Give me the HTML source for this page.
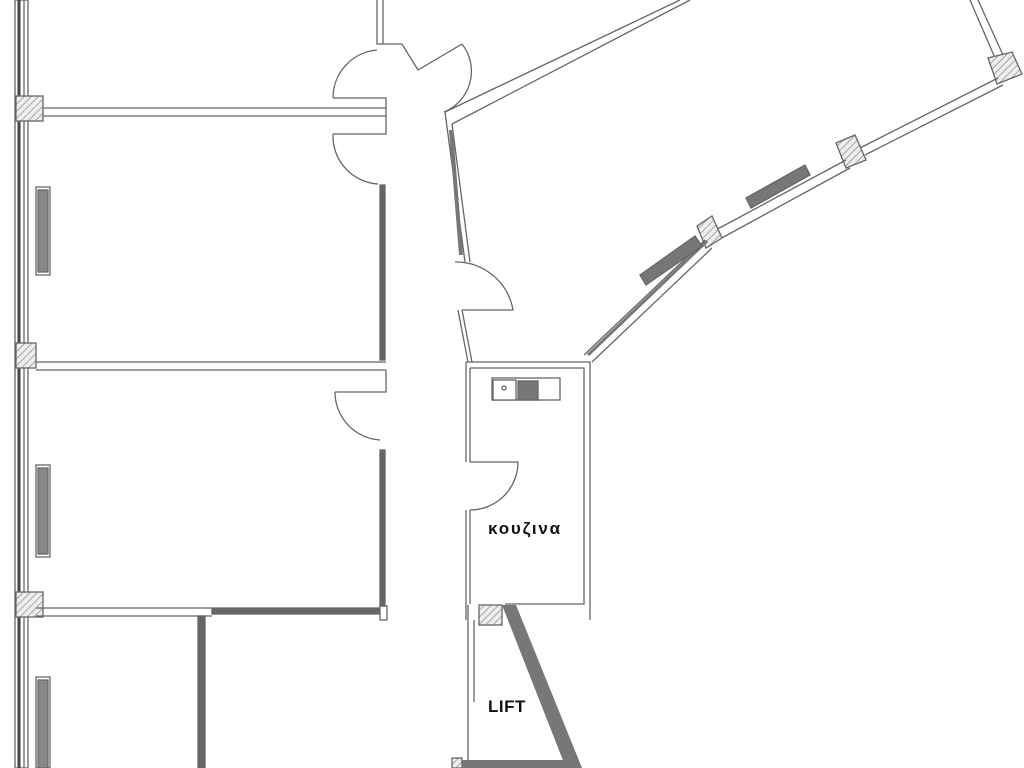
<!DOCTYPE html>
<html><head><meta charset="utf-8"><style>
html,body{margin:0;padding:0;background:#fff;width:1024px;height:768px;overflow:hidden}
svg{display:block}
text{font-family:"Liberation Sans","DejaVu Sans",sans-serif;font-weight:bold;fill:#111}
</style></head><body>
<svg width="1024" height="768" viewBox="0 0 1024 768" xmlns="http://www.w3.org/2000/svg">
<defs>
<pattern id="h" width="5" height="5" patternUnits="userSpaceOnUse" patternTransform="rotate(45)">
<rect width="5" height="5" fill="#eee"/><line x1="0" y1="0" x2="0" y2="5" stroke="#777" stroke-width="1.2"/></pattern>
</defs>
<g fill="none" stroke="#666" stroke-width="1.3">
<rect x="15" y="0" width="13" height="768" fill="#fff"/>
<line x1="19" y1="0" x2="19" y2="768" stroke="#444" stroke-width="3"/>
<line x1="24" y1="0" x2="24" y2="768"/>
<rect x="16" y="96" width="27" height="25" fill="url(#h)"/>
<rect x="16" y="343" width="20" height="25" fill="url(#h)"/>
<rect x="16" y="592" width="27" height="25" fill="url(#h)"/>
<path d="M43 108 H386 M43 116 H386"/>
<path d="M36 362 H386 M36 370 H386"/>
<path d="M36 608 H212 M36 616 H212"/>
<rect x="212" y="608" width="172" height="6" fill="#666"/>
<rect x="380" y="606" width="7" height="14" fill="#fff"/>
<rect x="380" y="185" width="5" height="175" fill="#666"/>
<rect x="380" y="450" width="5" height="156" fill="#666"/>
<path d="M380 98 H386 V134 H380 M333 98 H386 M333 134 H386"/>
<path d="M377 0 V44 H402 L418 70 L462 44"/>
<path d="M383 0 V44"/>
<path d="M335 392 H386 V370"/>
<rect x="198" y="616" width="7" height="152" fill="#666"/>
<path d="M333 98 A48 48 0 0 1 377 50"/>
<path d="M333 134 A48 48 0 0 0 378 184"/>
<path d="M335 392 A48 48 0 0 0 380 440"/>
<path d="M462 44 A44 44 0 0 1 444 112"/>
<path d="M455 262 A58 58 0 0 1 513 310 H462"/>
<path d="M470 462 H518 A48 48 0 0 1 470 510"/>
<rect x="36" y="187" width="14" height="88" fill="#fff"/>
<rect x="38" y="190" width="10" height="82" fill="#888"/>
<rect x="36" y="465" width="14" height="92" fill="#fff"/>
<rect x="38" y="468" width="10" height="86" fill="#888"/>
<rect x="36" y="677" width="14" height="91" fill="#fff"/>
<rect x="38" y="680" width="10" height="88" fill="#888"/>
<path d="M445 112 L680 0 M452 124 L690 0"/>
<path d="M445 112 L465 262 M452 124 L470 262"/>
<path d="M451 130 L461 255" stroke="#777" stroke-width="4"/>
<path d="M970 0 L995 58 M978 0 L1003 55"/>
<polygon points="988,58 1012,52 1022,74 997,84" fill="url(#h)"/>
<path d="M998 78 L860 148 M1003 85 L865 155"/>
<polygon points="836,143 855,135 866,160 846,168" fill="url(#h)"/>
<path d="M846 160 L712 232 M850 168 L718 240"/>
<polygon points="697,226 712,216 722,238 706,248" fill="url(#h)"/>
<path d="M705 240 L584 355 M712 248 L592 362"/>
<path d="M588 355 L707 241" stroke="#777" stroke-width="3"/>
<polygon points="746,198 805,165 810,175 751,208" fill="#777"/>
<polygon points="640,275 695,236 702,246 646,285" fill="#777"/>
<path d="M458 310 L468 362 M462 310 L472 362"/>
<path d="M466 362 H590 V620 M470 368 H584 V604 H505 M470 368 V462 M470 510 V604 M466 362 V462 M466 510 V620"/>
<rect x="492" y="378" width="68" height="22"/>
<rect x="493" y="380" width="23" height="20" fill="#fff"/>
<circle cx="504" cy="388" r="2"/>
<rect x="518" y="381" width="20" height="19" fill="#777"/>
<rect x="479" y="605" width="23" height="20" fill="url(#h)"/>
<polygon points="502,605 516,605 582,768 566,768" fill="#777" stroke="none"/>
<path d="M468 605 V768 M474 620 V702"/>
<rect x="460" y="760" width="118" height="8" fill="#777" stroke="none"/>
<rect x="452" y="758" width="10" height="10" fill="url(#h)"/>
</g>
<text x="488" y="534" font-size="17" letter-spacing="1.8">κουζινα</text>
<text x="488" y="712" font-size="17" letter-spacing="0.5">LIFT</text>
</svg>
</body></html>
